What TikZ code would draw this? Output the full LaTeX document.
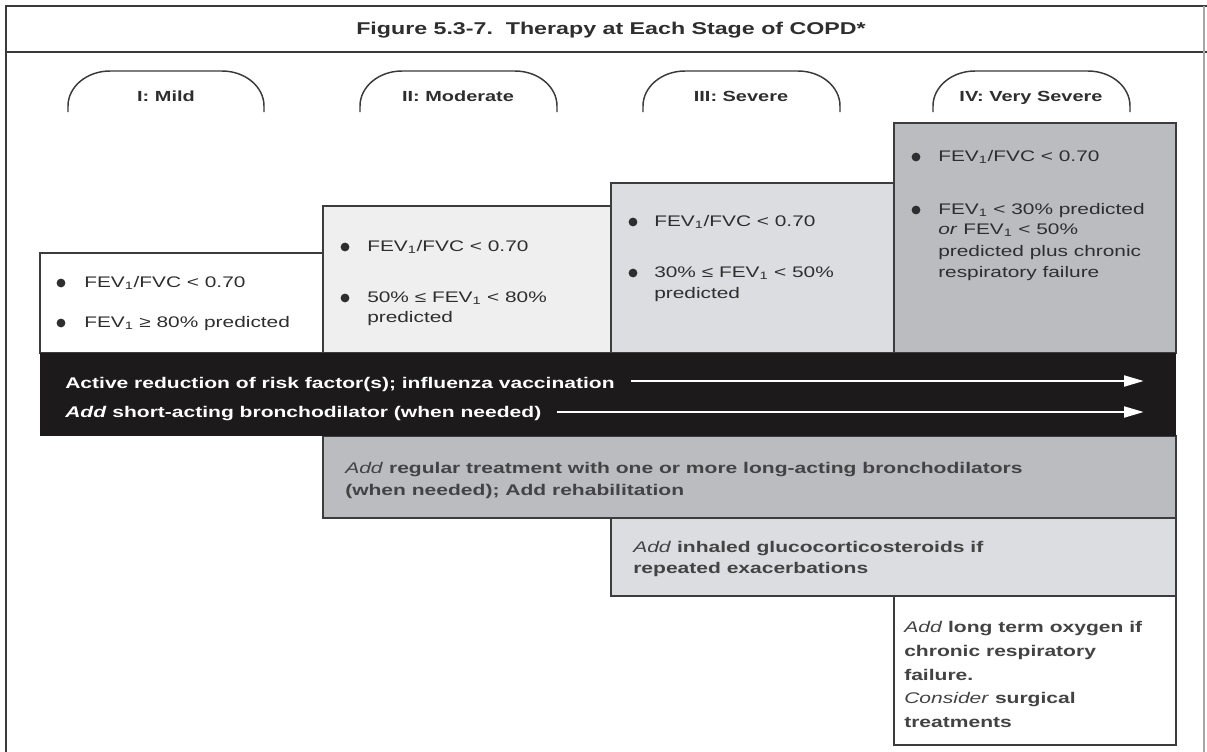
\documentclass[tikz,border=0pt]{standalone}
\usepackage{fontspec}
\setmainfont[FakeStretch=1.36]{Liberation Sans}
\usetikzlibrary{arrows.meta}
\definecolor{framec}{HTML}{3A3A3A}
\definecolor{edgec}{HTML}{3C3C3C}
\definecolor{txtc}{HTML}{2E2E2E}
\definecolor{fillA}{HTML}{EFEFEF}
\definecolor{fillB}{HTML}{DCDDE0}
\definecolor{fillC}{HTML}{BBBCC0}
\definecolor{bandc}{HTML}{1C1A1B}
\tikzset{
  frameline/.style={draw=framec, line width=1.2pt},
  boxstyle/.style={draw=edgec, line width=1pt},
  arcline/.style={draw=framec, line width=1.1pt},
  txt/.style={anchor=base west, inner sep=0pt, text=txtc, font=\fontsize{11.5}{13}\selectfont},
  thertxt/.style={anchor=base west, inner sep=0pt, text=txtc!90, font=\bfseries\fontsize{11.6}{13}\selectfont},
  bandtxt/.style={anchor=base west, inner sep=0pt, text=white, font=\bfseries\fontsize{11.6}{13}\selectfont},
  stagetxt/.style={anchor=base, inner sep=0pt, text=txtc, font=\bfseries\fontsize{11}{13}\selectfont},
  arr/.style={draw=white, line width=2.2pt, -{Triangle[length=15pt,width=8pt]}},
  bul/.style={fill=txtc}
}
\newcommand{\stagearc}[2]{%
  \draw[arcline] (#1,112) -- (#1,106) .. controls (#1,86.7) and (#1+18.8,71) .. (#1+42,71)
    -- (#2-42,71) .. controls (#2-18.8,71) and (#2,86.7) .. (#2,106) -- (#2,112);}
\newcommand{\fev}{FEV\textsubscript{1}}
\newcommand{\addit}[1]{\textmd{\textit{#1}}}
\begin{document}
\begin{tikzpicture}[x=0.75pt,y=-0.75pt]
\path[use as bounding box] (0,0) rectangle (1207,751);
\fill[white] (0,0) rectangle (1207,751);
% outer frame
\draw[frameline] (6,760) -- (6,6) -- (1207,6);
\draw[frameline] (6,52) -- (1207,52);
\draw[draw=black!35, line width=0.8pt] (1204,6) -- (1204,760);
\node[anchor=base, inner sep=0pt, text=txtc, font=\bfseries\fontsize{12.8}{15}\selectfont] (title) at (611,34) {Figure 5.3-7.\ \ Therapy at Each Stage of COPD*};
% stage arcs
\stagearc{68}{264}
\stagearc{360}{557}
\stagearc{643}{840}
\stagearc{933}{1130}
\node[stagetxt] (s1) at (166,101) {I: Mild};
\node[stagetxt] (s2) at (458,101) {II: Moderate};
\node[stagetxt] (s3) at (741,101) {III: Severe};
\node[stagetxt] (s4) at (1031,101) {IV: Very Severe};
% stage boxes
\draw[boxstyle, fill=white] (40,253) rectangle (323,353);
\draw[boxstyle, fill=fillA] (323,206) rectangle (611,353);
\draw[boxstyle, fill=fillB] (611,183) rectangle (894,353);
\draw[boxstyle, fill=fillC] (894,123) rectangle (1176,353);
% therapy boxes
\draw[boxstyle, fill=fillC] (323,436) rectangle (1176,518);
\draw[boxstyle, fill=fillB] (611,518) rectangle (1176,596);
\draw[boxstyle, fill=white] (894,596) rectangle (1176,745);
\fill[bandc] (40,353) rectangle (1176,436);
% box 1
\fill[bul] (61,283) circle[radius=4.4];
\fill[bul] (61,323) circle[radius=4.4];
\node[txt] (b1a) at (84,287) {\fev/FVC < 0.70};
\node[txt] (b1b) at (84,327) {\fev{} ≥ 80\% predicted};
% box 2
\fill[bul] (345,247) circle[radius=4.4];
\fill[bul] (345,298) circle[radius=4.4];
\node[txt] (b2a) at (367,251) {\fev/FVC < 0.70};
\node[txt] (b2b) at (367,302) {50\% ≤ \fev{} < 80\%};
\node[txt] (b2c) at (367,322) {predicted};
% box 3
\fill[bul] (633,222) circle[radius=4.4];
\fill[bul] (633,273) circle[radius=4.4];
\node[txt] (b3a) at (654,226) {\fev/FVC < 0.70};
\node[txt] (b3b) at (654,277) {30\% ≤ \fev{} < 50\%};
\node[txt] (b3c) at (654,298) {predicted};
% box 4
\fill[bul] (916,157) circle[radius=4.4];
\fill[bul] (916,210) circle[radius=4.4];
\node[txt] (b4a) at (938,161) {\fev/FVC < 0.70};
\node[txt] (b4b) at (938,214) {\fev{} < 30\% predicted};
\node[txt] (b4c) at (938,234) {\textit{or} \fev{} < 50\%};
\node[txt] (b4d) at (938,256) {predicted plus chronic};
\node[txt] (b4e) at (938,277) {respiratory failure};
% band
\node[bandtxt] (r1) at (65,388) {Active reduction of risk factor(s); influenza vaccination};
\node[bandtxt] (r2) at (65,417) {\textit{Add} short-acting bronchodilator (when needed)};
\coordinate (a1s) at (631,381);
\coordinate (a1e) at (1144,381);
\coordinate (a2s) at (557,412);
\coordinate (a2e) at (1144,412);
\draw[arr] (a1s) -- (a1e);
\draw[arr] (a2s) -- (a2e);
% therapy texts
\node[thertxt] (t5a) at (345,473) {\addit{Add} regular treatment with one or more long-acting bronchodilators};
\node[thertxt] (t5b) at (345,495) {(when needed); Add rehabilitation};
\node[thertxt] (t6a) at (633,552) {\addit{Add} inhaled glucocorticosteroids if};
\node[thertxt] (t6b) at (633,573) {repeated exacerbations};
\node[thertxt] (t7a) at (904,632) {\addit{Add} long term oxygen if};
\node[thertxt] (t7b) at (904,656) {chronic respiratory};
\node[thertxt] (t7c) at (904,680) {failure.};
\node[thertxt] (t7d) at (904,703) {\addit{Consider} surgical};
\node[thertxt] (t7e) at (904,727) {treatments};
\end{tikzpicture}
\end{document}
